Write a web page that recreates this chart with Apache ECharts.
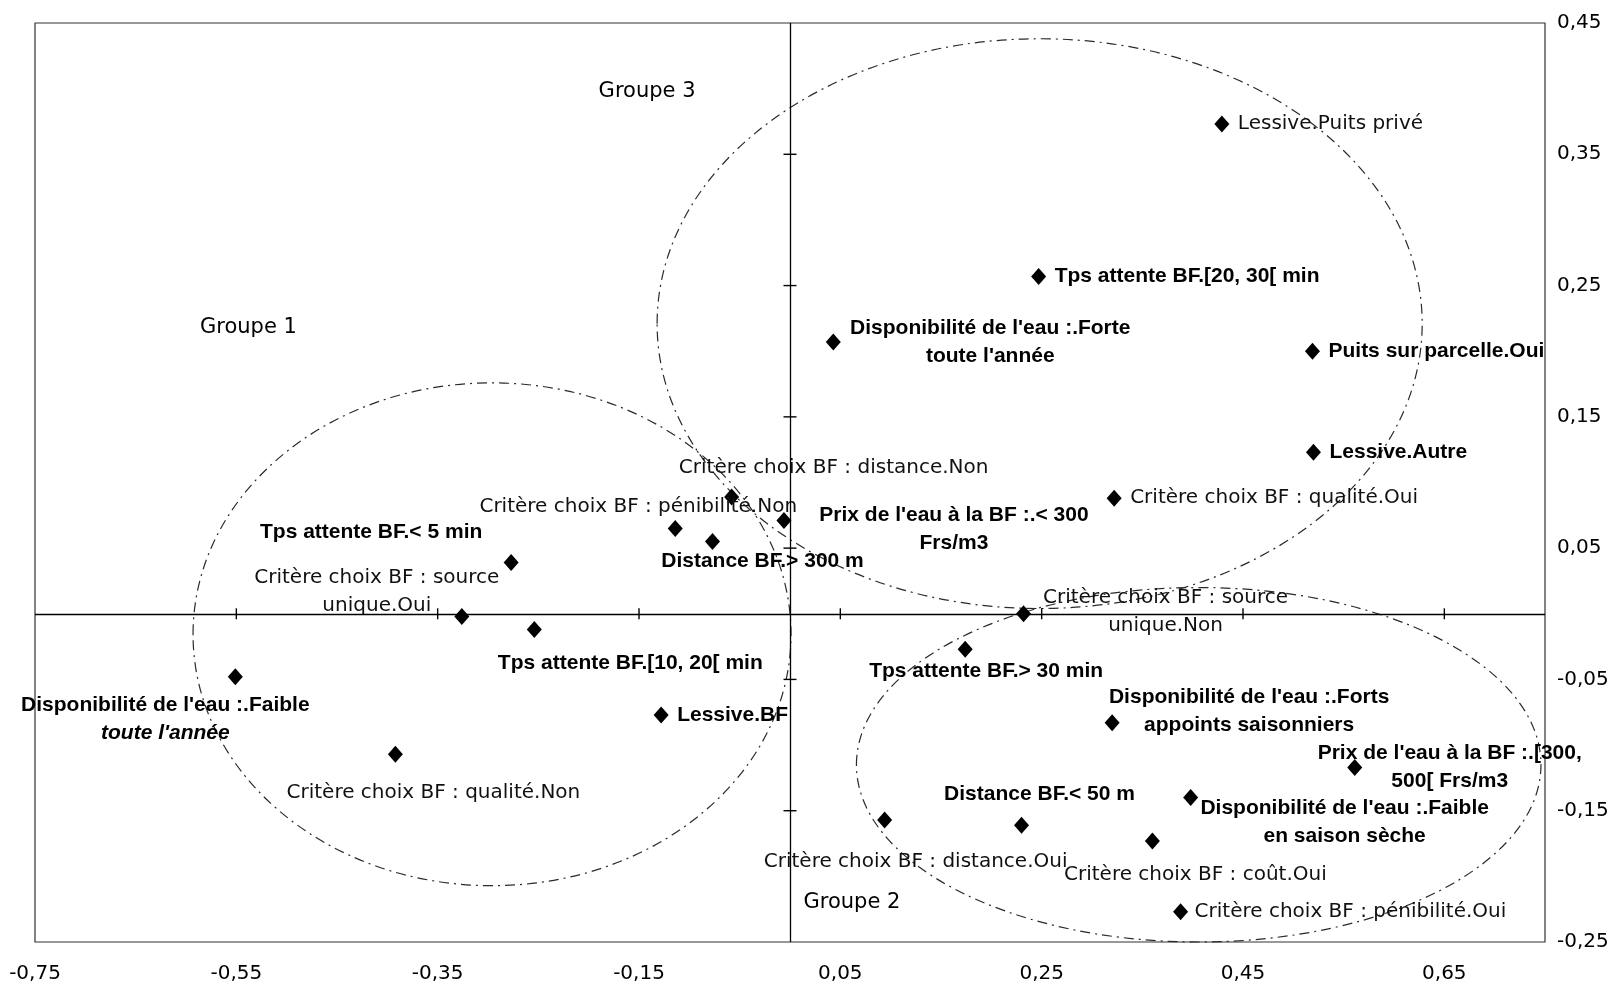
<!DOCTYPE html>
<html>
<head>
<meta charset="utf-8">
<script src="https://cdn.jsdelivr.net/npm/echarts@6/dist/echarts.min.js"></script>
<style>
  html, body { margin: 0; padding: 0; background: #fff; }
  #chart { width: 1615px; height: 988px; }
</style>
</head>
<body>
<div id="chart"></div>
<script>
// Modalities projected on the first factorial plane
const modalityLabels = [
  "Lessive.Puits privé",
  "Tps attente BF.[20, 30[ min",
  "Disponibilité de l'eau :.Forte\ntoute l'année",
  "Puits sur parcelle.Oui",
  "Lessive.Autre",
  "Critère choix BF : qualité.Oui",
  "Critère choix BF : distance.Non",
  "Critère choix BF : pénibilité.Non",
  "Distance BF.> 300 m",
  "Prix de l'eau à la BF :.< 300\nFrs/m3",
  "Tps attente BF.< 5 min",
  "Critère choix BF : source\nunique.Oui",
  "Tps attente BF.[10, 20[ min",
  "Disponibilité de l'eau :.Faible\ntoute l'année",
  "Critère choix BF : qualité.Non",
  "Lessive.BF",
  "Critère choix BF : source\nunique.Non",
  "Tps attente BF.> 30 min",
  "Disponibilité de l'eau :.Forts\nappoints saisonniers",
  "Prix de l'eau à la BF :.[300,\n500[ Frs/m3",
  "Disponibilité de l'eau :.Faible\nen saison sèche",
  "Distance BF.< 50 m",
  "Critère choix BF : distance.Oui",
  "Critère choix BF : coût.Oui",
  "Critère choix BF : pénibilité.Oui"
];
const axis1Coords = [
  0.429, 0.247, 0.043, 0.519, 0.520, 0.322, -0.058, -0.114, -0.077, -0.006,
  -0.277, -0.326, -0.254, -0.551, -0.392, -0.128, 0.232, 0.174, 0.320, 0.561,
  0.398, 0.230, 0.094, 0.360, 0.388
];
const axis2Coords = [
  0.373, 0.257, 0.207, 0.200, 0.123, 0.088, 0.089, 0.065, 0.055, 0.071,
  0.039, -0.002, -0.012, -0.048, -0.107, -0.077, 0.000, -0.027, -0.083, -0.117,
  -0.140, -0.161, -0.157, -0.173, -0.227
];

// Label styling: which labels are bold, which have an italic second line
const boldLabels = [1, 2, 3, 4, 8, 9, 10, 12, 13, 15, 17, 18, 19, 20, 21];
const italicSecondLine = [13];
// Label placement around each marker: [align, dx, dy] in pixels
const labelPlacement = [
  ['left', 16, 0], ['left', 16, 0], ['center', 157, 0], ['left', 16, 0], ['left', 16, 0],
  ['left', 16, 0], ['center', 102, -29], ['center', -37, -22], ['center', 50, 20], ['center', 170, 9],
  ['center', -140, -30], ['center', -85, -25], ['center', 96, 34], ['center', -70, 42], ['center', 38, 39],
  ['left', 16, 0], ['center', 142, -2], ['center', 21, 22], ['center', 137, -12], ['center', 95, 0],
  ['center', 154, 25], ['center', 18, -31], ['center', 31, 42], ['center', 43, 34], ['left', 14, 0]
];

// Tick crosses drawn on the two zero lines
const xCrossTicks = [-0.55, -0.35, -0.15, 0.05, 0.25, 0.45, 0.65];
const yCrossTicks = [0.35, 0.25, 0.15, 0.05, -0.05, -0.15];

// Group annotations
const groupNames = ['Groupe 1', 'Groupe 2', 'Groupe 3'];
const groupLabelX = [-0.538, 0.0615, -0.142];
const groupLabelY = [0.218, -0.220, 0.398];
const ellipseCenterX = [-0.296, 0.406, 0.248];
const ellipseCenterY = [-0.0156, -0.115, 0.221];
const ellipseRadiusX = [0.297, 0.340, 0.380];
const ellipseRadiusY = [0.1915, 0.135, 0.217];

const REGULAR = "'DejaVu Sans', sans-serif";
const BOLD = "'Liberation Sans', Arial, sans-serif";
const fmt = v => (Math.round(v * 100) / 100).toFixed(2).replace('.', ',');

const modalityData = modalityLabels.map((name, i) => {
  const [align, dx, dy] = labelPlacement[i];
  const bold = boldLabels.includes(i);
  const label = {
    show: true,
    position: 'inside',
    align: align,
    verticalAlign: 'middle',
    offset: [dx, dy],
    color: bold ? '#000' : '#111',
    opacity: 1,
    fontFamily: bold ? BOLD : REGULAR,
    fontWeight: bold ? 'bold' : 'normal',
    fontSize: bold ? 21 : 20,
    lineHeight: 28
  };
  if (italicSecondLine.includes(i)) {
    const lines = name.split('\n');
    label.formatter = '{a|' + lines[0] + '}\n{b|' + lines[1] + '}';
    label.rich = {
      a: { fontFamily: BOLD, fontWeight: 'bold', fontSize: 21, color: '#000', lineHeight: 28 },
      b: { fontFamily: BOLD, fontWeight: 'bold', fontStyle: 'italic', fontSize: 21, color: '#000', lineHeight: 28 }
    };
  } else {
    label.formatter = '{b}';
  }
  return { name: name, value: [axis1Coords[i], axis2Coords[i]], label: label };
});

const chart = echarts.init(document.getElementById('chart'), null, { renderer: 'canvas' });

chart.setOption({
  animation: false,
  backgroundColor: '#fff',
  grid: {
    left: 35, right: 70, top: 23, bottom: 46,
    show: true, borderColor: '#333', borderWidth: 1.2, backgroundColor: 'transparent'
  },
  xAxis: {
    type: 'value', min: -0.75, max: 0.75, interval: 0.2,
    axisLine: { show: false }, axisTick: { show: false }, splitLine: { show: false },
    axisLabel: {
      formatter: fmt, showMaxLabel: false, margin: 22,
      color: '#000', fontFamily: REGULAR, fontSize: 20
    }
  },
  yAxis: {
    type: 'value', position: 'right', min: -0.25, max: 0.45, interval: 0.1,
    axisLine: { show: false }, axisTick: { show: false }, splitLine: { show: false },
    axisLabel: {
      formatter: fmt, margin: 12,
      color: '#000', fontFamily: REGULAR, fontSize: 20
    }
  },
  series: [
    {
      name: 'groups',
      type: 'custom',
      z: 1,
      silent: true,
      encode: { x: 0, y: 1 },
      data: ellipseCenterX.map((cx, i) => [cx, ellipseCenterY[i], ellipseRadiusX[i], ellipseRadiusY[i]]),
      renderItem: function (params, api) {
        const c = api.coord([api.value(0), api.value(1)]);
        const s = api.size([api.value(2), api.value(3)]);
        return {
          type: 'ellipse',
          shape: { cx: c[0], cy: c[1], rx: s[0], ry: s[1] },
          style: { fill: 'none', stroke: '#2a2a2a', lineWidth: 1.2, lineDash: [10, 5, 2, 5] }
        };
      }
    },
    {
      name: 'xTicks',
      type: 'scatter',
      z: 2,
      silent: true,
      symbol: 'rect',
      symbolSize: [1.4, 11],
      itemStyle: { color: '#000', opacity: 1 },
      data: xCrossTicks.map(v => [v, 0]),
      markLine: {
        silent: true,
        symbol: ['none', 'none'],
        label: { show: false },
        lineStyle: { type: 'solid', color: '#000', width: 1.3, opacity: 1 },
        data: [{ xAxis: 0 }, { yAxis: 0 }]
      }
    },
    {
      name: 'yTicks',
      type: 'scatter',
      z: 2,
      silent: true,
      symbol: 'rect',
      symbolSize: [13, 1.4],
      itemStyle: { color: '#000', opacity: 1 },
      data: yCrossTicks.map(v => [0, v])
    },
    {
      name: 'modalities',
      type: 'scatter',
      z: 3,
      symbol: 'diamond',
      symbolSize: [15, 17],
      itemStyle: { color: '#000', opacity: 1 },
      data: modalityData
    },
    {
      name: 'groupLabels',
      type: 'scatter',
      z: 3,
      silent: true,
      symbolSize: 1,
      itemStyle: { color: 'transparent', opacity: 1 },
      label: {
        show: true, position: 'inside', formatter: '{b}',
        color: '#000', fontFamily: REGULAR, fontSize: 21
      },
      data: groupNames.map((n, i) => ({ name: n, value: [groupLabelX[i], groupLabelY[i]] }))
    }
  ]
});
</script>
</body>
</html>
